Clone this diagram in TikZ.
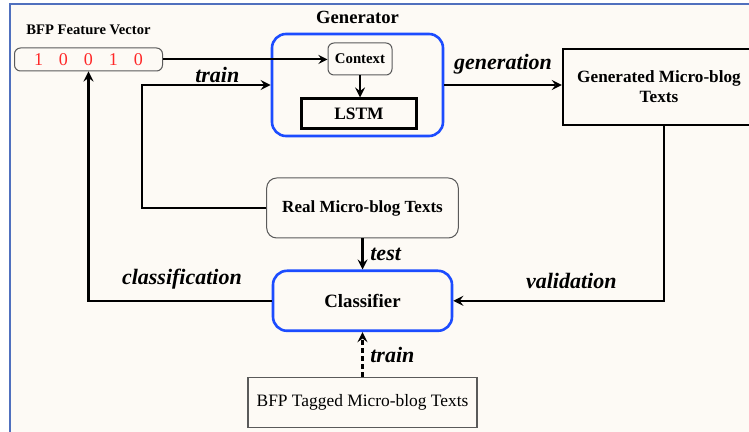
\documentclass[tikz,border=0pt]{standalone}
\usepackage{fontspec}
\setmainfont{Liberation Serif}
\usepackage{xcolor}
\usetikzlibrary{arrows, positioning}

\definecolor{genblue}{RGB}{28,76,255}
\definecolor{framebg}{RGB}{253,250,245}
\definecolor{frameblue}{RGB}{80,112,190}
\definecolor{edgegray}{RGB}{90,90,90}
\definecolor{bitred}{RGB}{255,40,40}

\begin{document}
\begin{tikzpicture}[x=0.5pt, y=-0.5pt,
    bluebox/.style={rectangle, draw=genblue, line width=1.3pt, rounded corners=7pt, font=\bfseries\fontsize{9.4}{11}\selectfont},
    roundbox/.style={rectangle, draw=edgegray, line width=0.5pt, rounded corners=5pt, font=\bfseries\fontsize{8.5}{10}\selectfont},
    boldbox/.style={rectangle, draw, line width=1.2pt, align=center, font=\bfseries\fontsize{8.6}{10}\selectfont},
    plainbox/.style={rectangle, draw=edgegray, line width=0.6pt, font=\fontsize{8.7}{10}\selectfont},
    vecbox/.style={rectangle, draw=edgegray, line width=0.5pt, rounded corners=3pt, inner sep=0pt, font=\fontsize{9}{10}\selectfont},
    title/.style={font=\bfseries\fontsize{7.3}{9}\selectfont},
    lbl/.style={font=\bfseries\itshape\fontsize{11}{13}\selectfont},
    arrow/.style={line width=1.2pt, ->, >=stealth},
    dasharrow/.style={arrow, dash pattern=on 2.5pt off 1.5pt}
]

% Canvas and frame
\clip (0,0) rectangle (749,432);
\fill[white] (0,0) rectangle (749,432);
\filldraw[fill=framebg, draw=frameblue, line width=0.75pt] (10,4) rectangle (760,445);

% Feature vector
\node[vecbox, minimum width=74pt, minimum height=11.5pt] (vec) at (88.5,59.5) {\textcolor{bitred}{1\hspace{8pt}0\hspace{8pt}0\hspace{8pt}1\hspace{8pt}0}};
\node[title, above=3pt of vec] (veclbl) {BFP Feature Vector};

% Generator
\node[bluebox, minimum width=85.5pt, minimum height=51pt] (gen) at (357.5,85) {};
\node[title, font=\bfseries\fontsize{9.3}{11}\selectfont, above=1pt of gen] (genlbl) {Generator};
\node[roundbox, rounded corners=3pt, minimum width=32pt, minimum height=16pt, font=\bfseries\fontsize{7.4}{9}\selectfont] (ctx) at (360,59) {Context};
\node[boldbox, below=11pt of ctx, xshift=-0.5pt, minimum width=57.5pt, minimum height=15pt, font=\bfseries\fontsize{8.7}{10}\selectfont] (lstm) {LSTM};

% Generated texts
\node[boldbox, line width=1.15pt, minimum width=96pt, minimum height=38pt] (gentxt) at (659,87) {Generated Micro-blog\\Texts};

% Real texts, classifier, tagged texts
\node[roundbox, minimum width=95.8pt, minimum height=30pt] (real) at (362.5,208) {Real Micro-blog Texts};
\node[bluebox, below=15.5pt of real, minimum width=89.5pt, minimum height=30pt] (cls) {Classifier};
\node[plainbox, below=22.5pt of cls, minimum width=114.5pt, minimum height=25pt] (tagged) {BFP Tagged Micro-blog Texts};

% Connections
\draw[arrow, line width=1pt] (vec.east) -- node[lbl, below, pos=0.33] {train} (vec.east -| ctx.west);
\draw[arrow] (ctx.south) -- (ctx.south |- lstm.north);
\draw[arrow] (real.west) -- ++(-124,0) |- (gen.west);
\draw[arrow] (gen.east) -- node[lbl, above=1.5pt] {generation} (gen.east -| gentxt.west);
\draw[arrow] ([xshift=2.5pt]gentxt.south) |- node[lbl, above=2pt, pos=0.72] {validation} (cls.east);
\draw[arrow] (real) -- node[lbl, right] {test} (cls);
\draw[arrow] (cls.west) -| node[lbl, above=2pt, pos=0.245] {classification} (vec.south);
\draw[dasharrow] (tagged) -- node[lbl, right] {train} (cls);

\end{tikzpicture}
\end{document}
